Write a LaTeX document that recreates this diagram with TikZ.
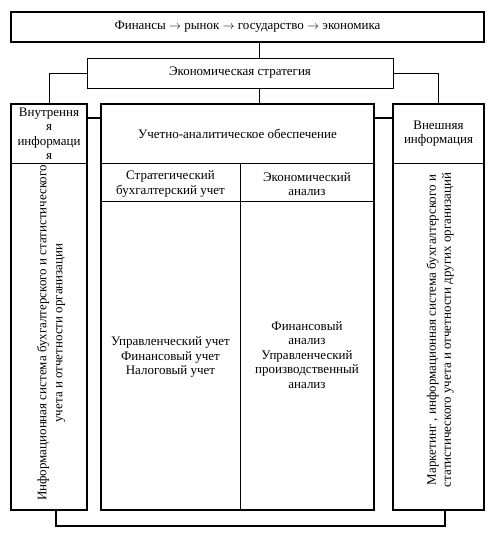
\documentclass[tikz,border=0pt]{standalone}
\usepackage{fontspec}
\setmainfont{Liberation Serif}
\begin{document}
\begin{tikzpicture}[x=1pt,y=-1pt,
  thickbox/.style={draw, line width=1.7pt, inner sep=0pt, minimum width=#1},
  thinbox/.style={draw, line width=1pt, inner sep=0pt},
  conn/.style={line width=1pt},
  tconn/.style={line width=1.7pt},
  div/.style={line width=0.7pt},
  txt/.style={font=\fontsize{13}{14.5}\selectfont, align=center},
  rtxt/.style={font=\fontsize{13}{#1}\selectfont, align=center, rotate=90, inner sep=0pt}]
\useasboundingbox (0,0) rectangle (500,536);
% boxes
\node[thickbox=473pt, minimum height=30pt, txt] (top) at (247.5,27) {Финансы $\rightarrow$ рынок $\rightarrow$ государство $\rightarrow$ экономика};
\node[thinbox, minimum width=306pt, minimum height=30pt, txt] (strat) at (240,73) {Экономическая стратегия};
\node[thickbox=76pt, minimum height=406pt] (left) at (49,307) {};
\node[thickbox=273pt, minimum height=406pt] (mid) at (237.5,307) {};
\node[thickbox=91pt, minimum height=406pt] (right) at (438.5,307) {};
% reference coordinates
\coordinate (cx) at (259,0);
\coordinate (hy) at (0,163);
\coordinate (sy) at (0,201.5);
\coordinate (vx) at (240,0);
\coordinate (my) at (0,118);
\coordinate (bl) at (56,0);
\coordinate (br) at (445,0);
\coordinate (by) at (0,526);
% dividers
\draw[div] (left.west |- hy) -- (left.east |- hy);
\draw[div] (mid.west |- hy) -- (mid.east |- hy);
\draw[div] (right.west |- hy) -- (right.east |- hy);
\draw[div] (mid.west |- sy) -- (mid.east |- sy);
\draw[div] (vx |- hy) -- (vx |- mid.south);
% connectors
\draw[conn] (top.south -| cx) -- (strat.north -| cx);
\draw[conn] (strat.south -| cx) -- (mid.north -| cx);
\draw[conn] (strat.west) -| (left.north);
\draw[conn] (strat.east) -| (right.north);
\draw[tconn] (left.east |- my) -- (mid.west |- my);
\draw[tconn] (mid.east |- my) -- (right.west |- my);
\draw[tconn] (left.south -| bl) -- (bl |- by) -- (br |- by) -- (right.south -| br);
% texts
\node[txt] (lh) at (49,133.5) {Внутрення\\я\\информаци\\я};
\node[txt] (rh) at (438.5,133.5) {Внешняя\\информация};
\node[txt] (mh) at (237.5,133.5) {Учетно-аналитическое обеспечение};
\node[txt] (sh1) at (170.5,184) {Стратегический\\бухгалтерский учет};
\node[txt] (sh2) at (307,184) {Экономический\\анализ};
\node[txt] (b1) at (170.5,357) {Управленческий учет\\Финансовый учет\\Налоговый учет};
\node[txt] (b2) at (307,355) {Финансовый\\анализ\\Управленческий\\производственный\\анализ};
\node[rtxt=16] (lb) at (51,333) {Информационная система бухгалтерского и статистического\\учета и отчетности организации};
\node[rtxt=15] (rb) at (440,330) {Маркетинг , информационная система бухгалтерского и\\статистического учета и отчетности других организаций};
\end{tikzpicture}
\end{document}
